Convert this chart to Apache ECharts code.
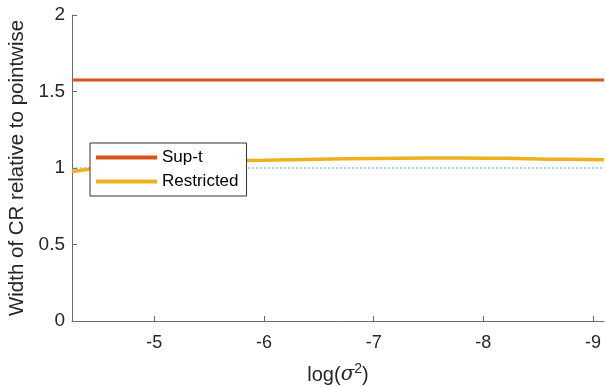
<!DOCTYPE html>
<html lang="en">
<head>
    <meta charset="UTF-8">
    <title>Width of CR</title>
    <style>
        html, body {margin: 0; padding: 0; background: #fff;}
    </style>
    <script type="text/javascript" src="https://cdn.jsdelivr.net/npm/echarts@6/dist/echarts.min.js"></script>
</head>
<body>
    <div id="main" style="width: 606px; height: 387px;"></div>
    <script>
        // data
        var logSigma = [-4.25, -4.4, -4.6, -4.8, -5.0, -5.5, -6.0, -6.5, -7.0, -7.5, -7.8, -8.2, -8.6, -9.1]
        var supT = [1.575, 1.575, 1.575, 1.575, 1.575, 1.575, 1.575, 1.575, 1.575, 1.575, 1.575, 1.575, 1.575, 1.575]
        var restricted = [0.977, 0.992, 1.012, 1.028, 1.038, 1.046, 1.051, 1.057, 1.062, 1.065, 1.066, 1.063, 1.058, 1.054]
        var refX = [-4.25, -9.1]
        var refY = [1, 1]
        var xTicks = [-5, -6, -7, -8, -9]
        var yTicks = [0, 0.5, 1, 1.5, 2]

        function pairs(xs, ys) {
            return xs.map(function (x, i) { return [x, ys[i]] })
        }

        var myChart = echarts.init(document.getElementById("main"))
        var axisColor = '#6b6b6b'
        var font = 'Liberation Sans, Arial, sans-serif'
        myChart.setOption({
            animation: false,
            grid: {left: 72, right: 2, top: 15, bottom: 66, outerBoundsMode: 'none'},
            legend: {
                data: ['Sup-t', 'Restricted'],
                orient: 'vertical',
                left: 90,
                top: 143,
                padding: [6, 8, 6, 6],
                backgroundColor: '#fff',
                borderColor: '#333',
                borderWidth: 1,
                icon: 'rect',
                itemWidth: 61,
                itemHeight: 4,
                itemGap: 7,
                textStyle: {fontSize: 17, color: '#000', fontFamily: font}
            },
            xAxis: {
                type: 'value',
                inverse: true,
                min: -9.1,
                max: -4.25,
                name: 'log({it|σ}{sup|2})',
                nameLocation: 'middle',
                nameGap: 41,
                nameTextStyle: {
                    fontSize: 20, color: '#262626', fontFamily: font,
                    rich: {
                        it: {fontSize: 20, fontStyle: 'italic', fontFamily: 'DejaVu Serif', color: '#262626'},
                        sup: {fontSize: 14, verticalAlign: 'bottom', padding: [0, 0, 12, 0], color: '#262626', fontFamily: font}
                    }
                },
                axisLine: {show: true, lineStyle: {color: axisColor, width: 1}},
                axisTick: {show: true, inside: true, length: 5, customValues: xTicks, lineStyle: {color: axisColor}},
                axisLabel: {customValues: xTicks, fontSize: 18, color: '#262626', fontFamily: font, margin: 13},
                splitLine: {show: false}
            },
            yAxis: {
                type: 'value',
                min: 0,
                max: 2,
                interval: 0.5,
                name: 'Width of CR relative to pointwise',
                nameLocation: 'middle',
                nameGap: 41,
                nameTextStyle: {fontSize: 20.5, color: '#262626', fontFamily: font},
                axisLine: {show: true, lineStyle: {color: axisColor, width: 1}},
                axisTick: {show: true, inside: true, length: 5, lineStyle: {color: axisColor}},
                axisLabel: {
                    fontSize: 19, color: '#262626', fontFamily: font, margin: 7,
                    formatter: function (v) { return yTicks.indexOf(v) >= 0 ? String(v) : '' }
                },
                splitLine: {show: false}
            },
            series: [{
                name: 'ref',
                type: 'line',
                data: pairs(refX, refY),
                symbol: 'none',
                lineStyle: {color: '#5ea6d8', width: 1, type: [2, 2]},
                z: 1
            }, {
                name: 'Sup-t',
                type: 'line',
                data: pairs(logSigma, supT),
                symbol: 'none',
                itemStyle: {color: '#D95319'},
                lineStyle: {color: '#D95319', width: 3},
                z: 2
            }, {
                name: 'Restricted',
                type: 'line',
                data: pairs(logSigma, restricted),
                symbol: 'none',
                smooth: 0.4,
                itemStyle: {color: '#EDB120'},
                lineStyle: {color: '#EDB120', width: 3.5},
                z: 3
            }]
        })
    </script>
</body>
</html>
